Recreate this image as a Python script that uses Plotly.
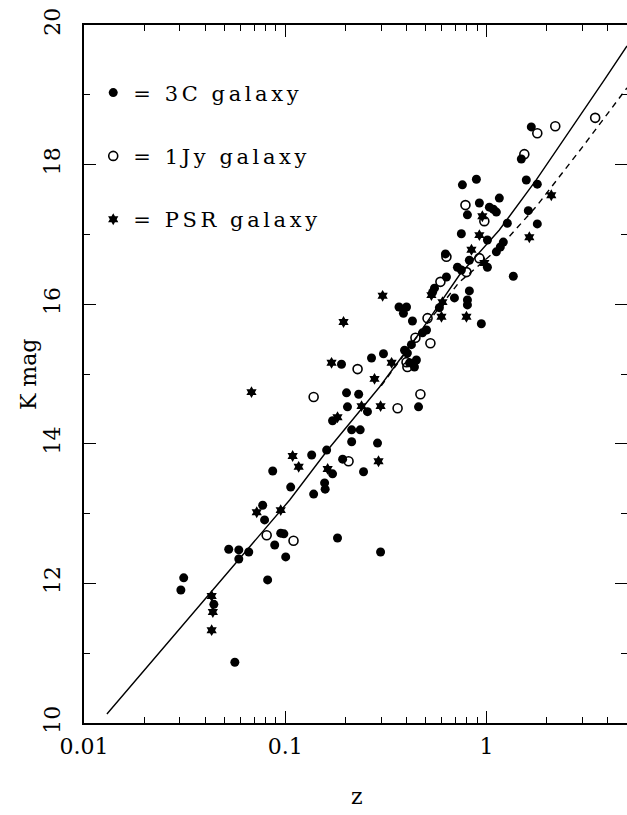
import math
import plotly.graph_objects as go

# ---- data ----
z_3c = [0.1354, 0.0867, 0.1065, 0.1385, 0.157, 0.158, 0.172, 0.0773, 0.079, 0.095,
        0.0985, 0.0887, 0.1006, 0.182, 0.0524, 0.0588, 0.0588, 0.0659, 0.0818, 0.0313,
        0.0303, 0.0442, 0.0562,
        0.2018, 0.2319, 0.204, 0.172, 0.214, 0.236, 0.214, 0.193, 0.1607, 0.2686,
        0.1905, 0.2564, 0.2877, 0.2452, 0.298,
        1.672, 1.492, 1.579, 1.791, 0.892, 0.760, 0.923, 0.805, 1.160, 1.035,
        1.083, 1.121, 1.616, 1.791, 1.271, 0.751, 1.214, 1.173, 1.121, 1.361,
        1.012, 0.626, 0.823, 0.718, 0.751, 1.012, 0.633, 0.552, 0.540, 0.823,
        0.694, 0.805, 0.805, 0.368, 0.401, 0.387, 0.584, 0.429, 0.944, 0.504,
        0.481, 0.424, 0.392, 0.405, 0.308, 0.415, 0.449, 0.439, 0.460]
k_3c = [13.84, 13.61, 13.38, 13.28, 13.44, 13.35, 13.57, 13.12, 12.91, 12.72,
        12.71, 12.55, 12.38, 12.65, 12.49, 12.48, 12.35, 12.45, 12.05, 12.08,
        11.905, 11.70, 10.87,
        14.73, 14.71, 14.53, 14.33, 14.20, 14.20, 14.03, 13.78, 13.91, 15.23,
        15.14, 14.46, 14.01, 13.60, 12.45,
        18.54, 18.08, 17.78, 17.72, 17.79, 17.71, 17.45, 17.28, 17.52, 17.39,
        17.36, 17.32, 17.34, 17.15, 17.16, 17.01, 16.89, 16.82, 16.75, 16.40,
        16.92, 16.72, 16.63, 16.53, 16.49, 16.53, 16.39, 16.23, 16.17, 16.19,
        16.09, 16.06, 15.99, 15.96, 15.96, 15.87, 15.95, 15.76, 15.72, 15.63,
        15.59, 15.42, 15.34, 15.30, 15.29, 15.16, 15.20, 15.10, 14.53]

z_1jy = [1.791, 2.200, 1.544, 3.474, 0.787, 0.977, 0.633, 0.923, 0.796, 0.591,
         0.510, 0.444, 0.527, 0.401, 0.405, 0.362, 0.470, 0.229, 0.1385, 0.2065,
         0.0809, 0.110]
k_1jy = [18.45, 18.55, 18.15, 18.67, 17.42, 17.19, 16.68, 16.66, 16.46, 16.32,
         15.80, 15.52, 15.44, 15.17, 15.10, 14.51, 14.71, 15.07, 14.67, 13.75,
         12.69, 12.61]

z_psr = [2.102, 0.955, 1.635, 0.843, 0.923, 0.977, 0.533, 0.605, 0.598, 0.796,
         0.338, 0.298, 0.305, 0.195, 0.170, 0.068, 0.278, 0.2396, 0.182, 0.1089,
         0.1167, 0.1626, 0.291, 0.0722, 0.095, 0.0431, 0.0437, 0.0431]
k_psr = [17.56, 17.26, 16.96, 16.78, 16.99, 16.59, 16.13, 16.03, 15.82, 15.82,
         15.16, 14.54, 16.12, 15.745, 15.16, 14.74, 14.93, 14.54, 14.38, 13.825,
         13.67, 13.64, 13.75, 13.02, 13.05, 11.82, 11.59, 11.33]

# model curves
z_solid = [0.013, 0.0549, 0.1053, 0.1626, 0.2944, 0.465, 0.7345, 1.16, 1.77, 3.85, 5.0]
k_solid = [10.13, 12.235, 13.195, 13.911, 14.814, 15.587, 16.418, 17.063, 17.78, 19.21, 19.70]
z_dash = [0.30, 0.47, 0.73, 1.16, 1.77, 3.0, 5.0]
k_dash = [14.83, 15.60, 16.31, 16.81, 17.40, 18.25, 19.10]

legend_names = ["= 3C galaxy", "= 1Jy galaxy", "= PSR galaxy"]
x_ticks = [0.01, 0.1, 1]
x_ticktext = ["0.01", "0.1", "1"]
y_ticks = [10, 12, 14, 16, 18, 20]
x_title = "z"
y_title = "K mag"

FONT = "DejaVu Serif"

def spaced(t):
    return '<span style="letter-spacing:3.6px">' + t + '</span>'

fig = go.Figure()
fig.add_trace(go.Scatter(x=z_solid, y=k_solid, mode="lines",
                         line=dict(color="black", width=1.4), showlegend=False))
fig.add_trace(go.Scatter(x=z_dash, y=k_dash, mode="lines",
                         line=dict(color="black", width=1.4, dash="6px,5px"), showlegend=False))
fig.add_trace(go.Scatter(x=z_3c, y=k_3c, mode="markers", name=spaced(legend_names[0]),
                         legendgroup="a",
                         marker=dict(symbol="circle", size=9, color="black", line=dict(width=0))))
fig.add_trace(go.Scatter(x=z_1jy, y=k_1jy, mode="markers", name=spaced(legend_names[1]),
                         legendgroup="b",
                         marker=dict(symbol="circle-open", size=9, color="black", line=dict(width=1.6))))
fig.add_trace(go.Scatter(x=z_psr, y=k_psr, mode="markers", name=spaced(legend_names[2]),
                         legendgroup="c",
                         marker=dict(symbol="hexagram", size=9, color="black", line=dict(width=0))))
fig.add_trace(go.Scatter(x=[], y=[], yaxis="y2", showlegend=False))

fig.update_layout(
    width=627, height=815,
    margin=dict(l=84, r=0, t=25, b=92),
    paper_bgcolor="white", plot_bgcolor="white",
    font=dict(family=FONT, color="black", size=21),
    showlegend=True,
    legend=dict(x=0.017, y=0.932, xanchor="left", yanchor="top",
                bgcolor="rgba(0,0,0,0)", borderwidth=0,
                font=dict(family=FONT, size=21, color="black"),
                traceorder="grouped", tracegroupgap=33, itemsizing="trace"),
    xaxis=dict(type="log", range=[-2, math.log10(5)],
               tickmode="array", tickvals=x_ticks, ticktext=x_ticktext,
               ticks="inside", ticklen=12, tickwidth=1.4, tickcolor="black",
               minor=dict(ticks="inside", ticklen=6, tickwidth=1.2, tickcolor="black", dtick="D1"),
               showline=True, linecolor="black", linewidth=1.5, mirror="ticks",
               showgrid=False, zeroline=False,
               tickfont=dict(family=FONT, size=22),
               ticklabelstandoff=3),
    yaxis=dict(range=[10, 20], tickmode="array", tickvals=y_ticks,
               ticks="inside", ticklen=12, tickwidth=1.4, tickcolor="black",
               minor=dict(ticks="inside", ticklen=6, tickwidth=1.2, tickcolor="black", dtick=1),
               showline=True, linecolor="black", linewidth=1.5, mirror=False,
               showgrid=False, zeroline=False, tickangle=-90,
               tickfont=dict(family=FONT, size=22),
               ticklabelstandoff=13),
    yaxis2=dict(range=[10, 20], overlaying="y", side="right", anchor="x",
                tickmode="array", tickvals=y_ticks, showticklabels=False,
                ticks="inside", ticklen=12, tickwidth=1.4, tickcolor="black",
                minor=dict(ticks="inside", ticklen=6, tickwidth=1.2, tickcolor="black", dtick=1),
                showline=False, showgrid=False, zeroline=False),
    annotations=[
        dict(text=y_title, xref="paper", yref="paper", x=-0.103, y=0.5,
             xanchor="center", yanchor="middle", textangle=-90, showarrow=False,
             font=dict(family=FONT, size=22)),
        dict(text=x_title, xref="paper", yref="paper", x=0.503, y=-0.106,
             xanchor="center", yanchor="middle", showarrow=False,
             font=dict(family=FONT, size=22)),
    ],
)

fig.write_html("out.html")
